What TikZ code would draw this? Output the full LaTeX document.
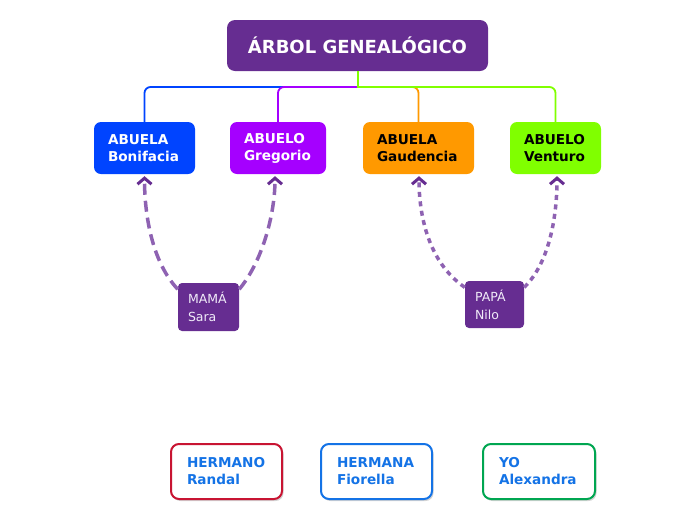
\documentclass[tikz,border=0pt]{standalone}
\usepackage{fontspec}
\setmainfont{DejaVu Sans}
\usetikzlibrary{arrows.meta,shadows}
\definecolor{titlepurple}{RGB}{102,45,145}
\definecolor{bonblue}{RGB}{0,68,255}
\definecolor{gregpurple}{RGB}{165,0,255}
\definecolor{gaudorange}{RGB}{255,153,0}
\definecolor{vengreen}{RGB}{128,255,0}
\definecolor{arrowpurple}{RGB}{142,98,178}
\definecolor{sibred}{RGB}{200,20,50}
\definecolor{sibblue}{RGB}{20,115,230}
\definecolor{sibgreen}{RGB}{0,166,81}
\definecolor{paletext}{RGB}{240,235,248}
\tikzset{
  titlebox/.style={draw=none, fill=titlepurple, rounded corners=8pt, text=white,
    font=\fontsize{18}{21}\selectfont\bfseries, minimum width=261pt, minimum height=51pt, inner sep=0pt},
  gpbox/.style={draw=none, rounded corners=7pt, align=left, inner xsep=14pt, inner ysep=0pt,
    minimum height=52pt, font=\fontsize{13.6}{17}\selectfont\bfseries},
  parbox/.style={draw=none, fill=titlepurple, rounded corners=4pt, align=left, inner xsep=10pt,
    inner ysep=0pt, text=paletext, font=\fontsize{12.5}{18}\selectfont},
  sibbox/.style={draw, line width=2pt, fill=white, rounded corners=8pt, align=left,
    inner xsep=16pt, inner ysep=0pt, minimum height=55pt, text=sibblue,
    font=\fontsize{13.6}{17}\selectfont\bfseries,
    drop shadow={opacity=0.35, shadow xshift=1.5pt, shadow yshift=-2pt}},
  branch/.style={line width=1.8pt, rounded corners=6pt},
  stem/.style={line width=2pt},
  parentarrow/.style={line width=3.5pt, arrowpurple,
    -{Straight Barb[length=6pt, width=14pt, line width=3pt, color=titlepurple]}},
  longdash/.style={dash pattern=on 11pt off 6pt},
  shortdash/.style={dash pattern=on 5pt off 4.5pt},
}
\begin{document}
\begin{tikzpicture}[x=1pt,y=-1pt]
\useasboundingbox (0,0) rectangle (696,520);

% nodes
\node[titlebox] (title) at (357.5,45.5) {ÁRBOL GENEALÓGICO};
\node[gpbox, fill=bonblue, text=white, text width=73pt] (bon) at (144.5,148) {ABUELA\\Bonifacia};
\node[gpbox, fill=gregpurple, text=white, text width=68pt] (greg) at (278,148) {ABUELO\\Gregorio};
\node[gpbox, fill=gaudorange, text=black, text width=83pt] (gaud) at (418.5,148) {ABUELA\\Gaudencia};
\node[gpbox, fill=vengreen, text=black, text width=63pt] (ven) at (555.5,148) {ABUELO\\Venturo};

\node[parbox, text width=41pt, minimum height=48pt] (mama) at (208.5,307) {MAMÁ\\Sara};
\node[parbox, text width=39pt, minimum height=47pt] (papa) at (494.5,304.5) {PAPÁ\\Nilo};

\node[sibbox, draw=sibred, text width=79pt] (randal) at (226.5,471.5) {HERMANO\\Randal};
\node[sibbox, draw=sibblue, text width=79pt] (fiorella) at (376.5,471.5) {HERMANA\\Fiorella};
\node[sibbox, draw=sibgreen, text width=80pt] (yo) at (539,471.5) {YO\\Alexandra};

% tree connectors
\coordinate (hub) at (358,87);
\draw[branch, bonblue] (hub) -| (bon.north);
\draw[branch, gregpurple] (hub) -| (greg.north);
\draw[branch, gaudorange] (hub) -| (gaud.north);
\draw[branch, vengreen] (hub) -| (ven.north);
\draw[stem, vengreen] (hub |- title.south) -- ([yshift=-1pt]hub);

% parent arrows
\coordinate (bonend) at ([yshift=-2pt]bon.south);
\coordinate (gregend) at ([xshift=-3pt,yshift=-2pt]greg.south);
\coordinate (gaudend) at ([xshift=0.5pt,yshift=-2pt]gaud.south);
\coordinate (venend) at ([xshift=1.5pt,yshift=-2pt]ven.south);

\draw[parentarrow, longdash] (mama.150) .. controls (152,262) and (144.5,215) .. (bonend);
\draw[parentarrow, longdash] (mama.30) .. controls (262,262) and (275,215) .. (gregend);
\draw[parentarrow, shortdash] (papa.150) .. controls (428,262) and (419,215) .. (gaudend);
\draw[parentarrow, shortdash] (papa.30) .. controls (550,262) and (557,215) .. (venend);
\end{tikzpicture}
\end{document}
